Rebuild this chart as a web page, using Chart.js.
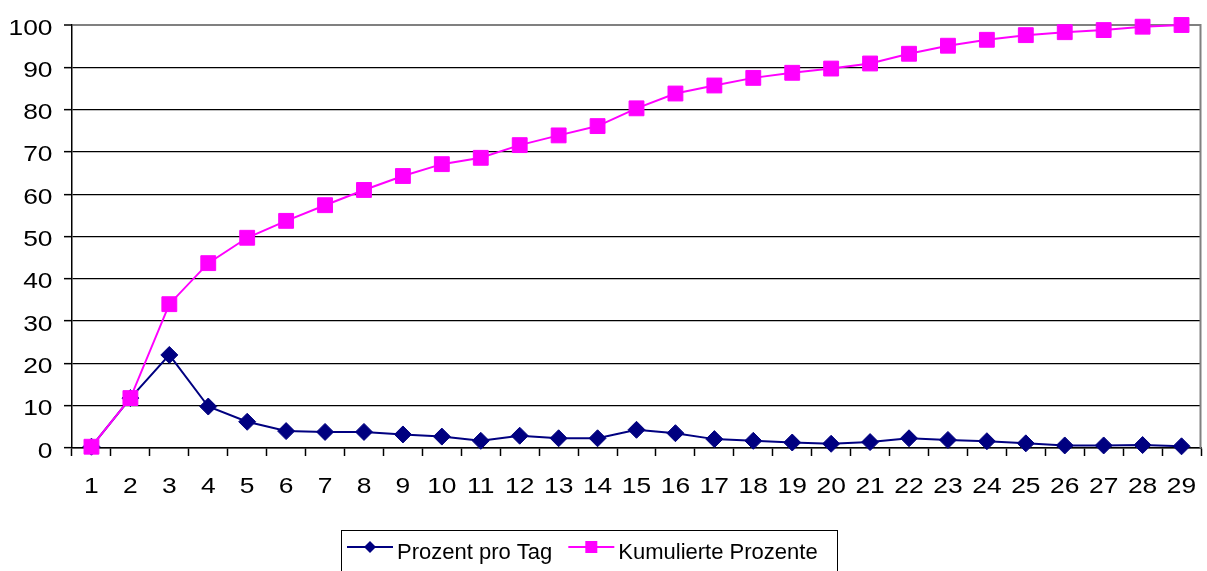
<!DOCTYPE html>
<html>
<head>
<meta charset="utf-8">
<script src="https://cdn.jsdelivr.net/npm/chart.js@4/dist/chart.umd.min.js"></script>
<style>
  html, body { margin: 0; padding: 0; background: #fff; }
  canvas { display: block; }
</style>
</head>
<body>
<canvas id="c" width="1207" height="571"></canvas>
<script>
// Days since start
const days = ['1','2','3','4','5','6','7','8','9','10','11','12','13','14','15',
              '16','17','18','19','20','21','22','23','24','25','26','27','28','29'];

// Share of the total per day (%)
const prozentProTag = [0.3, 11.8, 22.0, 9.8, 6.2, 4.0, 3.8, 3.8, 3.2, 2.7, 1.7, 2.9, 2.3, 2.3, 4.3,
                       3.5, 2.1, 1.7, 1.3, 1.0, 1.4, 2.3, 1.9, 1.6, 1.1, 0.6, 0.6, 0.7, 0.4];

// Running total (%)
const kumuliertProzente = [0.3, 11.8, 34.0, 43.7, 49.7, 53.7, 57.4, 61.0, 64.3, 67.1, 68.6, 71.6, 73.9, 76.1, 80.3,
                           83.8, 85.7, 87.5, 88.7, 89.7, 90.9, 93.2, 95.1, 96.5, 97.6, 98.3, 98.8, 99.6, 100.0];

// Value axis range
const yMin = 0, yMax = 100, yStep = 10;

const seriesNames = ['Prozent pro Tag', 'Kumulierte Prozente'];
const NAVY = '#000080', MAGENTA = '#FF00FF';
const FONT = '22px "Liberation Sans", Arial, sans-serif';
const STRETCH = 1.2; // axis numbers are drawn slightly wide

// Axis numbers, drawn horizontally widened at the library's tick positions
const tickLabelPlugin = {
  id: 'wideTicks',
  afterDraw(chart) {
    const ctx = chart.ctx;
    const xs = chart.scales.x, ys = chart.scales.y;
    ctx.save();
    ctx.fillStyle = '#000';
    ctx.font = FONT;
    ctx.textBaseline = 'alphabetic';
    ys.ticks.forEach(t => {
      const y = ys.getPixelForValue(t.value);
      ctx.save();
      ctx.translate(xs.left - 19.5, y + 9.5);
      ctx.scale(STRETCH, 1);
      ctx.textAlign = 'right';
      ctx.fillText(String(t.value), 0, 0);
      ctx.restore();
    });
    chart.data.labels.forEach((lab, i) => {
      const x = xs.getPixelForValue(i);
      ctx.save();
      ctx.translate(x, ys.bottom + 45);
      ctx.scale(STRETCH, 1);
      ctx.textAlign = 'center';
      ctx.fillText(lab, 0, 0);
      ctx.restore();
    });
    ctx.restore();
  }
};

// Grey plot-area frame on the right side
const frameRightPlugin = {
  id: 'frameRight',
  beforeDatasetsDraw(chart) {
    const { ctx, chartArea: a } = chart;
    ctx.save();
    ctx.strokeStyle = '#808080';
    ctx.lineWidth = 2;
    ctx.beginPath();
    ctx.moveTo(a.right - 0.5, a.top - 1);
    ctx.lineTo(a.right - 0.5, a.bottom);
    ctx.stroke();
    ctx.restore();
  }
};

// Boxed legend below the plot: line sample with marker, then the series name
const boxedLegendPlugin = {
  id: 'boxedLegend',
  afterDraw(chart) {
    const ctx = chart.ctx;
    ctx.save();
    ctx.strokeStyle = '#000';
    ctx.lineWidth = 1;
    ctx.strokeRect(341.5, 530.5, 496, 60);
    ctx.font = FONT;
    ctx.textBaseline = 'alphabetic';
    ctx.textAlign = 'left';
    let x = 347;
    const lineY = 547;
    chart.data.datasets.forEach(ds => {
      ctx.strokeStyle = ds.borderColor;
      ctx.lineWidth = 2;
      ctx.beginPath();
      ctx.moveTo(x, lineY);
      ctx.lineTo(x + 46, lineY);
      ctx.stroke();
      const cx = x + 23;
      ctx.fillStyle = ds.pointBackgroundColor;
      ctx.beginPath();
      if (ds.pointStyle === 'rectRot') {
        const r = 6;
        ctx.moveTo(cx, lineY - r);
        ctx.lineTo(cx + r, lineY);
        ctx.lineTo(cx, lineY + r);
        ctx.lineTo(cx - r, lineY);
        ctx.closePath();
      } else {
        ctx.rect(cx - 6, lineY - 6, 12, 12);
      }
      ctx.fill();
      ctx.fillStyle = '#000';
      ctx.fillText(ds.label, x + 50, 559);
      x += 50 + ctx.measureText(ds.label).width + 16;
    });
    ctx.restore();
  }
};

new Chart(document.getElementById('c'), {
  type: 'line',
  data: {
    labels: days,
    datasets: [
      {
        label: seriesNames[0],
        data: prozentProTag,
        borderColor: NAVY,
        backgroundColor: NAVY,
        borderWidth: 2,
        pointStyle: 'rectRot',
        pointRadius: 8.5,
        pointBorderWidth: 1,
        pointBackgroundColor: NAVY,
        pointBorderColor: NAVY,
        tension: 0,
        clip: false,
        order: 1
      },
      {
        label: seriesNames[1],
        data: kumuliertProzente,
        borderColor: MAGENTA,
        backgroundColor: MAGENTA,
        borderWidth: 2,
        pointStyle: 'rect',
        pointRadius: 10.5,
        pointBorderWidth: 1,
        pointBackgroundColor: MAGENTA,
        pointBorderColor: MAGENTA,
        tension: 0,
        clip: false,
        order: 0
      }
    ]
  },
  options: {
    responsive: false,
    devicePixelRatio: 1,
    animation: false,
    layout: { autoPadding: false, padding: { left: 0, right: 6, top: 25, bottom: 0 } },
    plugins: {
      legend: { display: false },
      tooltip: { enabled: false }
    },
    scales: {
      x: {
        type: 'category',
        offset: true,
        grid: {
          offset: true,
          drawOnChartArea: false,
          drawTicks: true,
          tickLength: 8,
          tickColor: '#000',
          tickWidth: 1.5
        },
        border: { color: '#000', width: 1.5 },
        ticks: { display: false },
        afterFit(s) { s.height = 123; }
      },
      y: {
        min: yMin,
        max: yMax,
        ticks: { stepSize: yStep, display: false },
        grid: {
          color: c => (c.tick && c.tick.value === yMax) ? '#808080' : '#000',
          lineWidth: c => (c.tick && c.tick.value === yMax) ? 2 : 1.3,
          drawTicks: true,
          tickLength: 8,
          tickColor: '#000',
          tickWidth: 1.5
        },
        border: { color: '#000', width: 1.5 },
        afterFit(s) { s.width = 72; }
      }
    }
  },
  plugins: [frameRightPlugin, tickLabelPlugin, boxedLegendPlugin]
});
</script>
</body>
</html>
